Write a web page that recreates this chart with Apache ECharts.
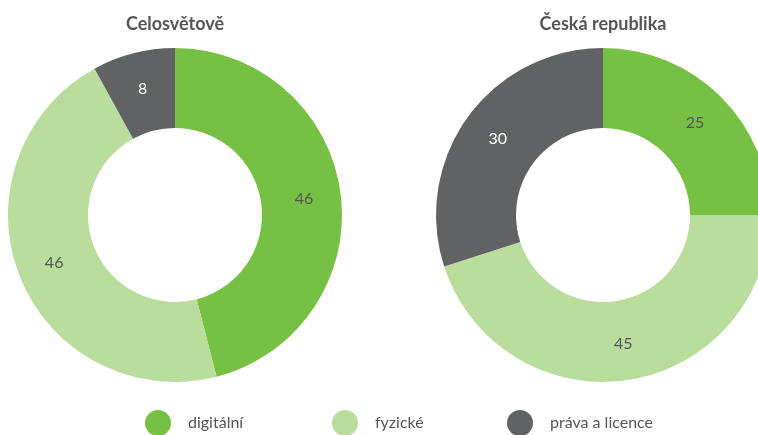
<!DOCTYPE html>
<html>
<head>
<meta charset="utf-8">
<script src="https://cdn.jsdelivr.net/npm/echarts@6/dist/echarts.min.js"></script>
<style>
  html, body { margin: 0; padding: 0; background: #fff; }
  #main { width: 758px; height: 435px; }
</style>
</head>
<body>
<div id="main"></div>
<script>
var categories = ['digitální', 'fyzické', 'práva a licence'];
var worldValues = [46, 46, 8];
var czValues = [25, 45, 30];
var titles = ['Celosvětově', 'Česká republika'];

var myColor = ['#76c043', '#b9dd9c', '#616264'];
var labelColor = ['#555557', '#555557', '#ffffff'];
var fontName = 'Lato, "Open Sans", sans-serif';
// left edge of each legend circle
var legendLeft = [145, 332, 507];

function buildData(values) {
  return values.map(function (v, i) {
    return {
      value: v,
      name: categories[i],
      label: { color: labelColor[i] }
    };
  });
}

function donut(values, cx) {
  return {
    type: 'pie',
    radius: [87, 167],
    center: [cx, 215],
    startAngle: 90,
    clockwise: true,
    avoidLabelOverlap: false,
    label: {
      show: true,
      position: 'inside',
      formatter: '{c}',
      fontSize: 16,
      fontFamily: fontName
    },
    labelLine: { show: false },
    emphasis: { disabled: true },
    data: buildData(values)
  };
}

var legends = categories.map(function (c, i) {
  return {
    data: [c],
    left: legendLeft[i] - 5,
    top: 405,
    icon: 'circle',
    itemWidth: 26,
    itemHeight: 26,
    selectedMode: false,
    textStyle: { fontSize: 16, color: '#555557', fontFamily: fontName, padding: [0, 0, 0, 12] }
  };
});

var chart = echarts.init(document.getElementById('main'));
chart.setOption({
  animation: false,
  color: myColor,
  title: [{
    text: titles[0],
    left: 170,
    top: 10,
    textAlign: 'center',
    textStyle: { fontSize: 18, fontWeight: 'bold', color: '#555557', fontFamily: fontName }
  }, {
    text: titles[1],
    left: 598,
    top: 10,
    textAlign: 'center',
    textStyle: { fontSize: 18, fontWeight: 'bold', color: '#555557', fontFamily: fontName }
  }],
  legend: legends,
  series: [donut(worldValues, 175), donut(czValues, 603)]
});
</script>
</body>
</html>
